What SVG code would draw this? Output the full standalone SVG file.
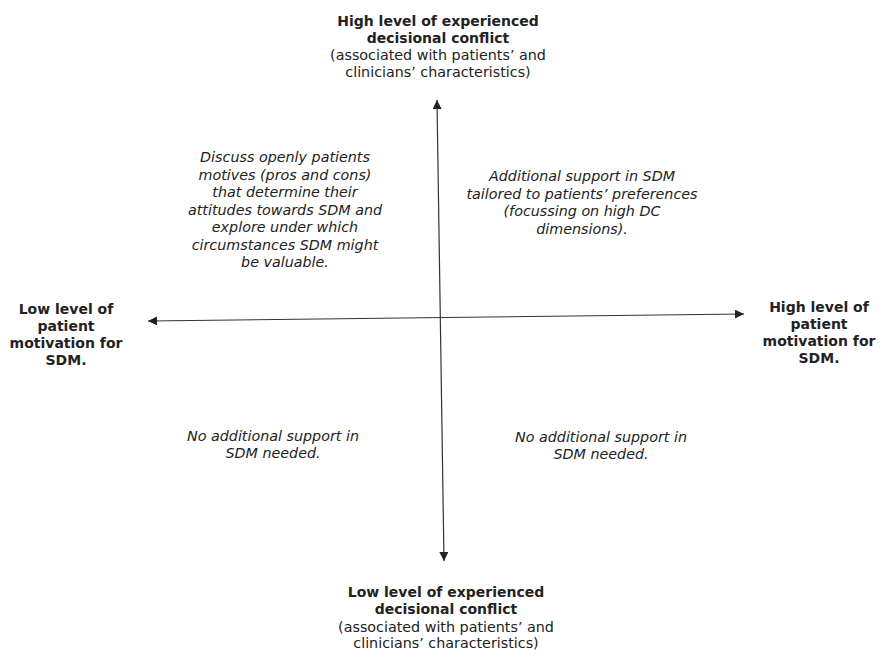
<svg xmlns="http://www.w3.org/2000/svg" width="882" height="650" viewBox="0 0 882 650">
<style>
text{font-family:"DejaVu Sans",Verdana,sans-serif;fill:#222;text-anchor:middle}
.b{font-weight:bold;font-size:14px}
.n{font-size:14.3px}
.i{font-style:italic;font-size:14.3px}
.ax{stroke:#333;stroke-width:1.2;fill:none}
</style>
<defs>
<marker id="ah" viewBox="0 0 10 10" refX="10" refY="5" markerWidth="9" markerHeight="9" markerUnits="userSpaceOnUse" orient="auto-start-reverse">
<path d="M0,0L10,5L0,10z" fill="#222"/>
</marker>
</defs>
<rect width="882" height="650" fill="#fff"/>
<g id="connectors">
<line class="ax" x1="437" y1="100" x2="444" y2="561" marker-start="url(#ah)" marker-end="url(#ah)"/>
<line class="ax" x1="148" y1="321" x2="744" y2="314" marker-start="url(#ah)" marker-end="url(#ah)"/>
</g>
<g id="top">
<text class="b" x="438" y="26">High level of experienced</text>
<text class="b" x="438" y="43">decisional conflict</text>
<text class="n" x="438" y="60">(associated with patients’ and</text>
<text class="n" x="438" y="77">clinicians’ characteristics)</text>
</g>
<g id="bottom">
<text class="b" x="446" y="597">Low level of experienced</text>
<text class="b" x="446" y="614">decisional conflict</text>
<text class="n" x="446" y="632">(associated with patients’ and</text>
<text class="n" x="446" y="648">clinicians’ characteristics)</text>
</g>
<g id="left">
<text class="b" x="66" y="314">Low level of</text>
<text class="b" x="66" y="331">patient</text>
<text class="b" x="66" y="348">motivation for</text>
<text class="b" x="66" y="365">SDM.</text>
</g>
<g id="right">
<text class="b" x="819" y="312">High level of</text>
<text class="b" x="819" y="329">patient</text>
<text class="b" x="819" y="346">motivation for</text>
<text class="b" x="819" y="363">SDM.</text>
</g>
<g id="q-upper-left">
<text class="i" x="285" y="162">Discuss openly patients</text>
<text class="i" x="285" y="179.5">motives (pros and cons)</text>
<text class="i" x="285" y="197">that determine their</text>
<text class="i" x="285" y="214.5">attitudes towards SDM and</text>
<text class="i" x="285" y="232">explore under which</text>
<text class="i" x="285" y="249.5">circumstances SDM might</text>
<text class="i" x="285" y="267">be valuable.</text>
</g>
<g id="q-upper-right">
<text class="i" x="582" y="181">Additional support in SDM</text>
<text class="i" x="582" y="198.5">tailored to patients’ preferences</text>
<text class="i" x="582" y="216">(focussing on high DC</text>
<text class="i" x="582" y="233.5">dimensions).</text>
</g>
<g id="q-lower-left">
<text class="i" x="273" y="441">No additional support in</text>
<text class="i" x="273" y="458">SDM needed.</text>
</g>
<g id="q-lower-right">
<text class="i" x="601" y="442">No additional support in</text>
<text class="i" x="601" y="459">SDM needed.</text>
</g>
</svg>
